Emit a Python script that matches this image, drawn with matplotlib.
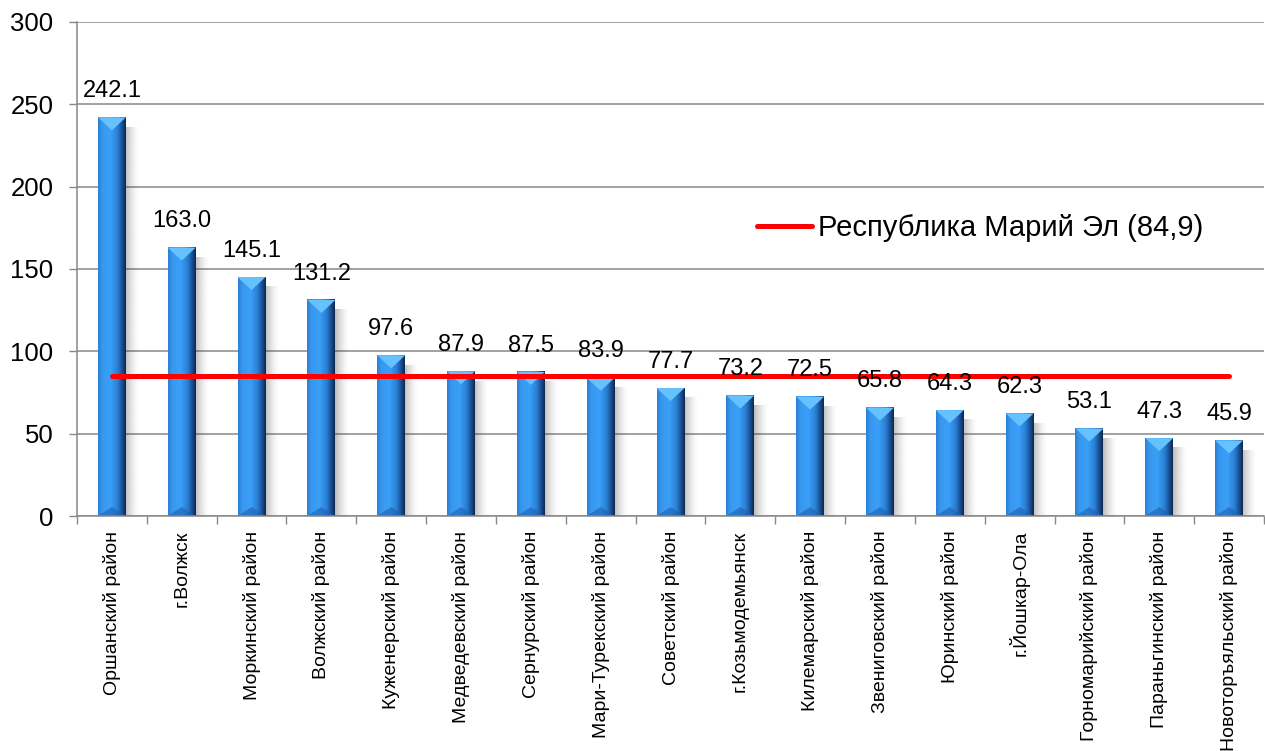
import numpy as np
import matplotlib
matplotlib.use('Agg')
import matplotlib.pyplot as plt
from matplotlib.colors import LinearSegmentedColormap
from matplotlib.patches import Polygon
from matplotlib import font_manager

plt.rcParams['font.family'] = ['Liberation Sans', 'DejaVu Sans']

# condensed face for the category and value labels, if it is there
names = {f.name for f in font_manager.fontManager.ttflist}
narrow = 'Liberation Sans Narrow' if 'Liberation Sans Narrow' in names else None

# data
districts = ['Оршанский район', 'г.Волжск', 'Моркинский район', 'Волжский район',
             'Куженерский район', 'Медведевский район', 'Сернурский район',
             'Мари-Турекский район', 'Советский район', 'г.Козьмодемьянск',
             'Килемарский район', 'Звениговский район', 'Юринский район',
             'г.Йошкар-Ола', 'Горномарийский район', 'Параньгинский район',
             'Новоторъяльский район']
values = [242.1, 163.0, 145.1, 131.2, 97.6, 87.9, 87.5, 83.9, 77.7, 73.2,
          72.5, 65.8, 64.3, 62.3, 53.1, 47.3, 45.9]
republic_value = 84.9
republic_label = 'Республика Марий Эл (84,9)'

n = len(values)
x = np.arange(n)
bar_w = 0.40

if narrow:
    lab_family = [narrow, 'Liberation Sans']
    xlab_size, val_size = 16.5, 18
else:
    lab_family = ['Liberation Sans']
    xlab_size, val_size = 14, 17

fig = plt.figure(figsize=(12.65, 7.51), dpi=100)
ax = fig.add_axes([77 / 1265, 1 - 516 / 751, 1187 / 1265, 494 / 751])

# bar body gradient (left -> right)
bar_cmap = LinearSegmentedColormap.from_list('bar', [
    (0.0, '#2a80d6'), (0.15, '#3898ee'), (0.45, '#3a9ff8'),
    (0.70, '#2a80d4'), (0.86, '#1b529a'), (1.0, '#0d284c')])
grad = np.linspace(0, 1, 64).reshape(1, -1)

# shadow gradient (grey, fading out to the right)
sh = np.zeros((1, 32, 4))
sh[..., :3] = 0.2
sh[0, :, 3] = np.linspace(0.5, 0.0, 32) ** 1.6

px_per_unit = 494 / 300
top_bevel = 13 / px_per_unit
bottom_bevel = 9 / px_per_unit

for xi, v in zip(x, values):
    ax.imshow(sh, extent=(xi + bar_w / 2 - 0.01, xi + bar_w / 2 + 0.20, 0, v - 6),
              aspect='auto', zorder=1.5, interpolation='bilinear')
    ax.imshow(grad, cmap=bar_cmap, extent=(xi - bar_w / 2, xi + bar_w / 2, 0, v),
              aspect='auto', zorder=2, interpolation='bilinear')
    ax.add_patch(Polygon([(xi - bar_w / 2, v), (xi + bar_w / 2, v), (xi, v - top_bevel)],
                         closed=True, facecolor='#66c2ff', edgecolor='none', zorder=2.1))
    ax.add_patch(Polygon([(xi - bar_w / 2, 0), (xi + bar_w / 2, 0), (xi, bottom_bevel)],
                         closed=True, facecolor='#1f5fae', edgecolor='none',
                         alpha=0.6, zorder=2.1))
    ax.annotate(f'{v:.1f}', xy=(xi, v), xytext=(0, 19), textcoords='offset points',
                ha='center', va='center', fontsize=val_size, family=lab_family,
                color='black', zorder=5)

ax.plot(x, [republic_value] * n, color='#ff0000', lw=3.6, solid_capstyle='round',
        zorder=3, label=republic_label)

ax.set_xlim(-0.5, n - 0.5)
ax.set_ylim(0, 300)
ax.set_yticks(np.arange(0, 301, 50))
ax.yaxis.grid(True, color='#888888', lw=1.1)
ax.set_axisbelow(True)

ax.set_xticks(x)
ax.set_xticklabels(districts, rotation=90, fontsize=xlab_size, family=lab_family)
ax.set_xticks(np.arange(-0.5, n, 1), minor=True)
ax.tick_params(axis='x', which='major', length=0, pad=10.5)
ax.tick_params(axis='x', which='minor', length=6, color='#888888', width=1)
ax.tick_params(axis='y', length=6, color='#888888', width=1, pad=11, labelsize=18.5)

for side in ['top', 'right']:
    ax.spines[side].set_visible(False)
for side in ['left', 'bottom']:
    ax.spines[side].set_color('#888888')
    ax.spines[side].set_linewidth(1.1)

fig.legend(loc='center left', bbox_to_anchor=(757 / 1265, 1 - 228 / 751),
           frameon=False, fontsize=21, handlelength=1.9, handletextpad=0.18,
           borderpad=0, borderaxespad=0)

fig.savefig('out.png', dpi=100)
